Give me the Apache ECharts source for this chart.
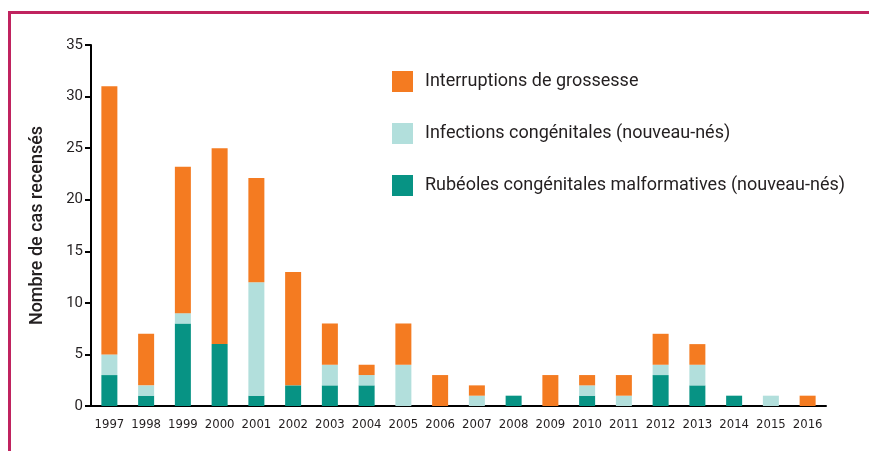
<!DOCTYPE html>
<html><head><meta charset="utf-8">
<script src="https://cdn.jsdelivr.net/npm/echarts@6/dist/echarts.min.js"></script>
<style>html,body{margin:0;padding:0;background:#fff}#c{width:869px;height:451px}</style>
</head><body><div id="c"></div>
<script>
const years = ['1997','1998','1999','2000','2001','2002','2003','2004','2005','2006','2007','2008','2009','2010','2011','2012','2013','2014','2015','2016'];
const rubeoles = [3,1,8,6,1,2,2,2,0,0,0,1,0,1,0,3,2,1,0,0];
const infections = [2,1,1,0,11,0,2,1,4,0,1,0,0,1,1,1,2,0,1,0];
const interruptions = [26,5,14.2,19,10.1,11,4,1,4,3,1,0,3,1,2,3,2,0,0,1];
const yTicks = {min:0, max:35, interval:5};
const names = ['Rubéoles congénitales malformatives (nouveau-nés)','Infections congénitales (nouveau-nés)','Interruptions de grossesse'];
const colors = ['#079384','#b2dfdc','#f47b21'];

const chart = echarts.init(document.getElementById('c'));
const txt = '#231f20';
chart.setOption({
  animation:false,
  graphic:[
    {type:'line', shape:{x1:9.5,y1:12.5,x2:869,y2:12.5}, style:{stroke:'#c0235f',lineWidth:3}},
    {type:'line', shape:{x1:9.5,y1:11,x2:9.5,y2:451}, style:{stroke:'#c0235f',lineWidth:3}}
  ],
  grid:{left:91,right:43,top:45,bottom:45},
  legend:{
    orient:'vertical', left:387, top:66, itemWidth:21, itemHeight:21, itemGap:31,
    icon:'rect',
    data:[names[2],names[1],names[0]],
    textStyle:{fontFamily:'Roboto',fontSize:18,color:txt,padding:[0,0,0,7]}
  },
  xAxis:{
    type:'category', data:years,
    axisLine:{lineStyle:{color:'#000',width:2}},
    axisTick:{length:6,lineStyle:{color:'#000',width:2}},
    axisLabel:{interval:0,fontFamily:"'DejaVu Sans Condensed'",fontSize:13,color:txt,margin:12}
  },
  yAxis:{
    type:'value', min:yTicks.min, max:yTicks.max, interval:yTicks.interval,
    name:'Nombre de cas recensés', nameLocation:'middle', nameGap:45,
    nameTextStyle:{fontFamily:'Roboto',fontSize:18,fontWeight:500,color:txt},
    axisLine:{show:true,lineStyle:{color:'#000',width:2}},
    axisTick:{show:true,length:6,lineStyle:{color:'#000',width:2}},
    axisLabel:{fontFamily:'Roboto',fontSize:15,color:txt,margin:8},
    splitLine:{show:false}
  },
  series:[
    {name:names[0],type:'bar',stack:'a',barWidth:16,data:rubeoles,itemStyle:{color:colors[0]}},
    {name:names[1],type:'bar',stack:'a',barWidth:16,data:infections,itemStyle:{color:colors[1]}},
    {name:names[2],type:'bar',stack:'a',barWidth:16,data:interruptions,itemStyle:{color:colors[2]}}
  ]
});
</script></body></html>
